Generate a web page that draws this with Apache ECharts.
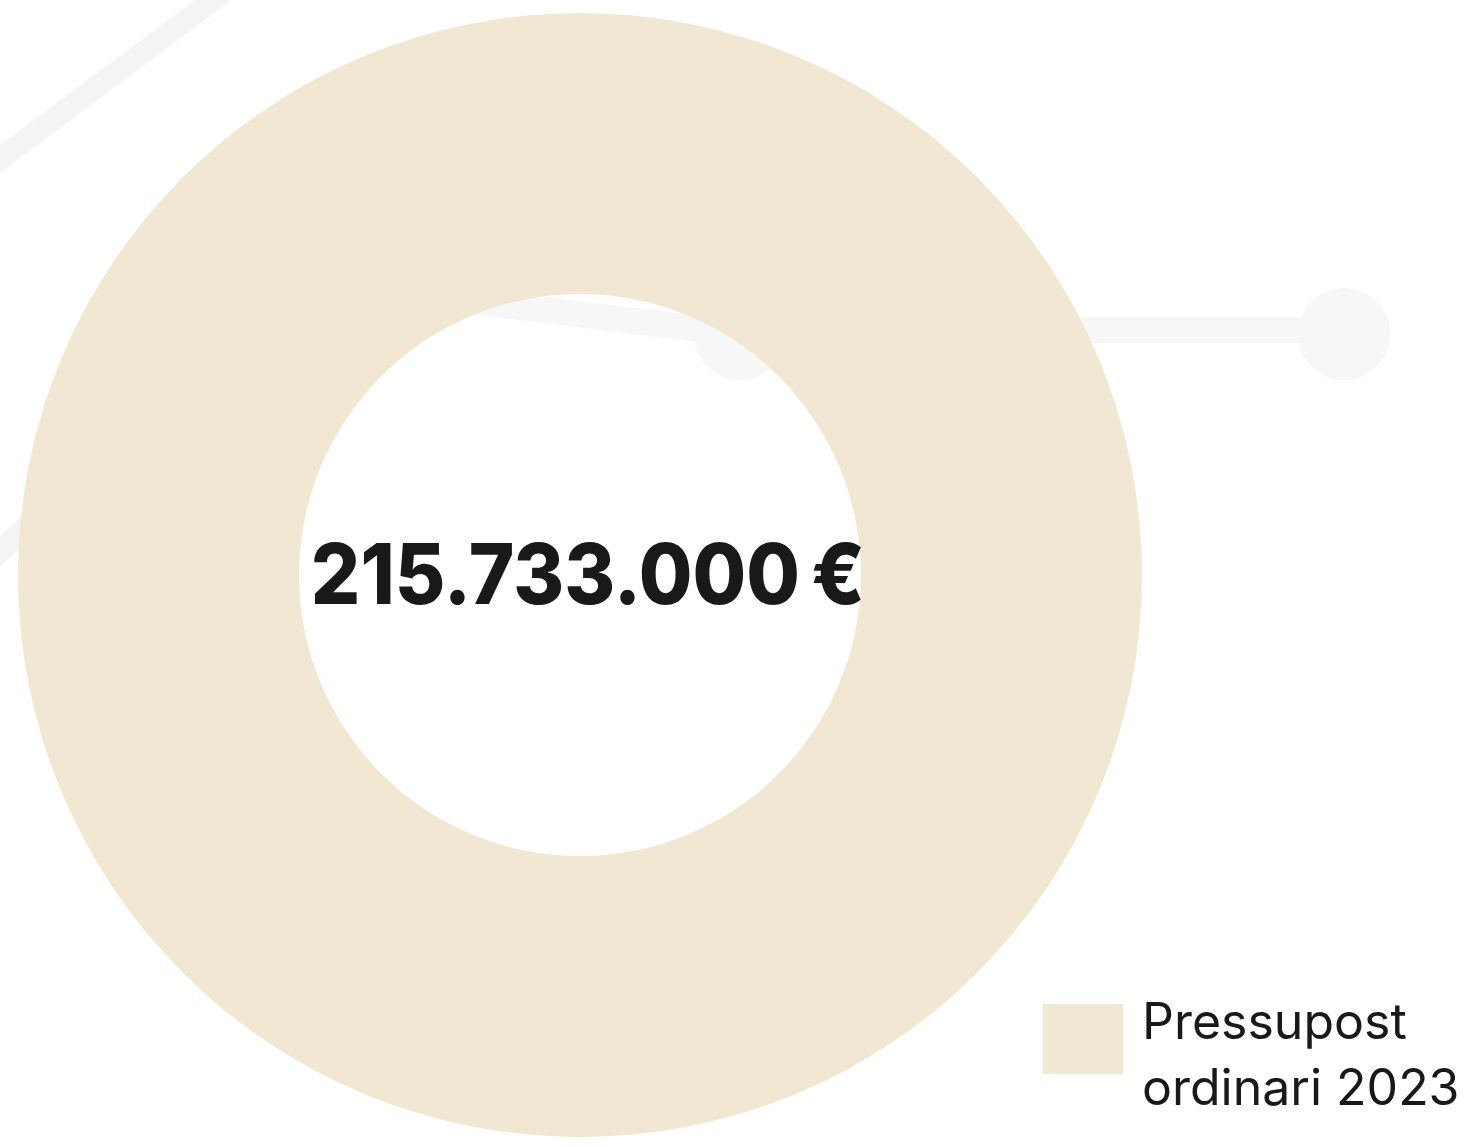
<!DOCTYPE html>
<html>
<head>
<meta charset="utf-8">
<script src="https://cdn.jsdelivr.net/npm/echarts@6/dist/echarts.min.js"></script>
<style>
html,body{margin:0;padding:0;background:#fff;}
#chart{width:1479px;height:1147px;}
</style>
</head>
<body>
<div id="chart"></div>
<script>
const categories = ["Pressupost ordinari 2023"];
const values = [215733000];
const colors = ["#F2E7D2"];

function fmtEuro(v) {
  return String(v).replace(/\B(?=(\d{3})+(?!\d))/g, ".") + "\u2009€";
}

const chart = echarts.init(document.getElementById('chart'), null, {renderer: 'canvas'});
const deco = '#F3F4F5';
chart.setOption({
  backgroundColor: '#ffffff',
  animation: false,
  graphic: [
    {type: 'line', z: -10, shape: {x1: -20, y1: 174, x2: 232, y2: -14}, style: {stroke: deco, lineWidth: 22}},
    {type: 'line', z: -10, shape: {x1: -20, y1: 570, x2: 120, y2: 440}, style: {stroke: deco, lineWidth: 22}},
    {type: 'line', z: -10, shape: {x1: 300, y1: 280, x2: 740, y2: 334}, style: {stroke: '#F7F7F7', lineWidth: 26}},
    {type: 'circle', z: -10, shape: {cx: 740, cy: 334, r: 46}, style: {fill: '#F7F7F7'}},
    {type: 'line', z: -10, shape: {x1: 1000, y1: 330, x2: 1344, y2: 330}, style: {stroke: '#F7F7F7', lineWidth: 26}},
    {type: 'circle', z: -10, shape: {cx: 1344, cy: 334, r: 46}, style: {fill: '#F7F7F7'}},
    {
      type: 'text', z: 100, x: 588, y: 579, scaleX: 0.925,
      style: {
        text: fmtEuro(values[0]),
        fill: '#171a18',
        font: '800 84px Inter, sans-serif',
        align: 'center',
        verticalAlign: 'middle'
      }
    }
  ],
  legend: {
    left: 1043,
    top: 955,
    padding: 0,
    orient: 'vertical',
    itemWidth: 80,
    itemHeight: 70,
    itemGap: 10,
    icon: 'rect',
    data: categories,
    formatter: function (name) {
      const parts = name.split(' ');
      return '{s| }\n{t|' + parts[0] + '}\n{t|' + parts.slice(1).join(' ') + '}';
    },
    textStyle: {
      color: '#171a18',
      fontFamily: 'Inter, "Open Sans", sans-serif',
      fontSize: 50,
      lineHeight: 66,
      padding: [0, 0, 0, 14],
      rich: {
        s: {fontSize: 1, lineHeight: 36},
        t: {fontSize: 50, lineHeight: 66, color: '#171a18', fontFamily: 'Inter, "Open Sans", sans-serif'}
      }
    }
  },
  series: [{
    type: 'pie',
    center: [580, 575],
    radius: [281, 562],
    silent: true,
    label: {show: false},
    labelLine: {show: false},
    data: categories.map((c, i) => ({name: c, value: values[i], itemStyle: {color: colors[i]}}))
  }]
});
</script>
</body>
</html>
